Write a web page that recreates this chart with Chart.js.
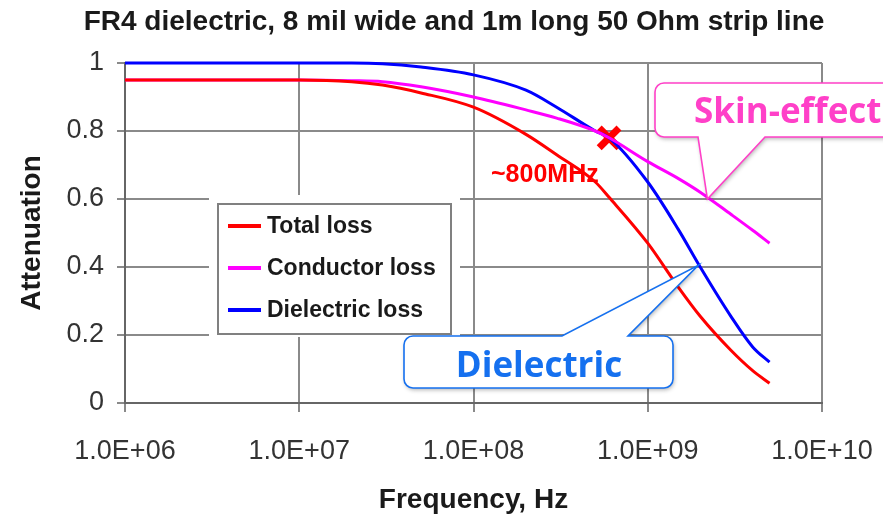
<!DOCTYPE html>
<html>
<head>
<meta charset="utf-8">
<script src="https://cdn.jsdelivr.net/npm/chart.js@4.4.1/dist/chart.umd.min.js"></script>
<style>
    html, body { margin: 0; padding: 0; background: #ffffff; }
    #wrap { width: 883px; height: 522px; position: relative; }
</style>
</head>
<body>
<div id="wrap"><canvas id="chart"></canvas></div>
<script>
// frequency points, Hz
const freqs = [1e6, 2e6, 5e6, 1e7, 2e7, 3e7, 5e7, 1e8, 2e8, 3e8, 5e8, 6e8, 1e9, 1.5e9, 2e9, 3e9, 4e9, 5e9];
const totalLoss = [0.95, 0.95, 0.95, 0.95, 0.945, 0.935, 0.912, 0.87, 0.79, 0.73, 0.65, 0.605, 0.47, 0.34, 0.255, 0.155, 0.095, 0.058];
const conductorLoss = [0.95, 0.95, 0.95, 0.95, 0.948, 0.945, 0.93, 0.90, 0.862, 0.838, 0.80, 0.78, 0.71, 0.66, 0.62, 0.555, 0.508, 0.47];
const dielectricLoss = [1, 1, 1, 1, 1, 0.998, 0.988, 0.965, 0.92, 0.87, 0.80, 0.78, 0.65, 0.51, 0.40, 0.255, 0.165, 0.12];

const seriesNames = ["Total loss", "Conductor loss", "Dielectric loss"];
const seriesColors = ["#ff0000", "#ff00ff", "#0000ff"];

const xTicks = [1e6, 1e7, 1e8, 1e9, 1e10];
const xTickLabels = ["1.0E+06", "1.0E+07", "1.0E+08", "1.0E+09", "1.0E+10"];
const yTickLabels = ["0", "0.2", "0.4", "0.6", "0.8", "1"];

const chartTitle = "FR4 dielectric, 8 mil wide and 1m long 50 Ohm strip line";

// crossover marker and callout anchors
const crossPoint = { x: 6e8, y: 0.78 };
const skinTip = { x: 2.2e9, y: 0.6 };
const dielectricTip = { x: 1.95e9, y: 0.405 };

const toPoints = (vals) => freqs.map((f, i) => ({ x: f, y: vals[i] }));

Chart.defaults.font.family = "'Liberation Sans', Arial, sans-serif";
Chart.defaults.color = "#333333";

const calloutPath = (ctx, l, t, r, b, rad, side, t1, t2, tip) => {
    ctx.beginPath();
    ctx.moveTo(l + rad, t);
    if (side === "top") {
        ctx.lineTo(t1, t);
        ctx.lineTo(tip.x, tip.y);
        ctx.lineTo(t2, t);
    }
    ctx.lineTo(r - rad, t);
    ctx.arcTo(r, t, r, t + rad, rad);
    ctx.lineTo(r, b - rad);
    ctx.arcTo(r, b, r - rad, b, rad);
    if (side === "bottom") {
        ctx.lineTo(t2, b);
        ctx.lineTo(tip.x, tip.y);
        ctx.lineTo(t1, b);
    }
    ctx.lineTo(l + rad, b);
    ctx.arcTo(l, b, l, b - rad, rad);
    ctx.lineTo(l, t + rad);
    ctx.arcTo(l, t, l + rad, t, rad);
    ctx.closePath();
};

const drawCallout = (ctx, box, fill, stroke) => {
    ctx.save();
    calloutPath(ctx, box.l, box.t, box.r, box.b, 9, box.side, box.t1, box.t2, box.tip);
    ctx.shadowColor = "rgba(0,0,0,0.3)";
    ctx.shadowBlur = 4;
    ctx.shadowOffsetX = 1;
    ctx.shadowOffsetY = 2;
    ctx.fillStyle = fill;
    ctx.fill();
    ctx.shadowColor = "transparent";
    ctx.lineWidth = 1.6;
    ctx.strokeStyle = stroke;
    ctx.stroke();
    ctx.restore();
};

const annotations = {
    id: "annotations",
    afterDraw(chart) {
        const { ctx, scales: { x, y } } = chart;
        ctx.save();

        // title
        ctx.fillStyle = "#1a1a1a";
        ctx.font = "bold 28px 'Liberation Sans', Arial, sans-serif";
        ctx.textAlign = "center";
        ctx.textBaseline = "middle";
        ctx.fillText(chartTitle, 454, 22);

        // legend box
        ctx.fillStyle = "#ffffff";
        ctx.fillRect(209, 195, 251, 142);
        ctx.strokeStyle = "#808080";
        ctx.lineWidth = 2;
        ctx.strokeRect(218, 204, 233, 130);
        ctx.font = "bold 23px 'Liberation Sans', Arial, sans-serif";
        ctx.textBaseline = "middle";
        ctx.textAlign = "left";
        seriesNames.forEach((name, idx) => {
            const rowY = 226 + idx * 42;
            ctx.strokeStyle = seriesColors[idx];
            ctx.lineWidth = 4;
            ctx.beginPath();
            ctx.moveTo(228, rowY);
            ctx.lineTo(261, rowY);
            ctx.stroke();
            ctx.fillStyle = "#1a1a1a";
            ctx.fillText(name, 267, rowY + 1);
        });

        // ~800MHz label
        ctx.fillStyle = "#ff0000";
        ctx.font = "bold 25px 'Liberation Sans', Arial, sans-serif";
        ctx.textBaseline = "alphabetic";
        ctx.fillText("~800MHz", 491, 182);

        // Skin-effect callout
        drawCallout(ctx, {
            l: 655, t: 83, r: 905, b: 137, side: "bottom", t1: 698, t2: 765,
            tip: { x: x.getPixelForValue(skinTip.x), y: y.getPixelForValue(skinTip.y) },
        }, "#ffffff", "#ff40c8");
        ctx.fillStyle = "#ff40c8";
        ctx.font = "bold 35px 'Open Sans', sans-serif";
        ctx.textAlign = "left";
        ctx.fillText("Skin-effect", 694, 123);

        // Dielectric callout
        drawCallout(ctx, {
            l: 404, t: 336, r: 673, b: 388, side: "top", t1: 562, t2: 628,
            tip: { x: x.getPixelForValue(dielectricTip.x), y: y.getPixelForValue(dielectricTip.y) },
        }, "#ffffff", "#1570ef");
        ctx.fillStyle = "#1570ef";
        ctx.font = "bold 35px 'Open Sans', sans-serif";
        ctx.textAlign = "center";
        ctx.fillText("Dielectric", 539, 377);

        ctx.restore();
    },
};

const lineDataset = (idx, vals) => ({
    type: "line",
    label: seriesNames[idx],
    data: toPoints(vals),
    borderColor: seriesColors[idx],
    backgroundColor: seriesColors[idx],
    borderWidth: 3,
    pointRadius: 0,
    cubicInterpolationMode: "monotone",
    clip: false,
});

new Chart(document.getElementById("chart").getContext("2d"), {
    type: "line",
    data: {
        datasets: [
            lineDataset(0, totalLoss),
            lineDataset(1, conductorLoss),
            lineDataset(2, dielectricLoss),
            {
                type: "scatter",
                label: "crossover",
                data: [crossPoint],
                pointStyle: "crossRot",
                pointRadius: 14,
                borderColor: "#ff0000",
                backgroundColor: "#ff0000",
                pointBorderWidth: 7,
                borderWidth: 7,
                clip: false,
            },
        ],
    },
    options: {
        responsive: true,
        maintainAspectRatio: false,
        animation: false,
        layout: { padding: { left: 0, right: 61, top: 63, bottom: 0 } },
        plugins: {
            legend: { display: false },
            tooltip: { enabled: false },
            title: { display: false },
        },
        scales: {
            x: {
                type: "logarithmic",
                min: 1e6,
                max: 1e10,
                afterBuildTicks: (scale) => {
                    scale.ticks = xTicks.map((v) => ({ value: v }));
                },
                afterFit: (scale) => {
                    scale.height = 119;
                    scale.paddingLeft = 0;
                    scale.paddingRight = 0;
                },
                ticks: {
                    callback: (value, idx) => xTickLabels[idx],
                    font: { size: 27 },
                    color: "#333333",
                    padding: 23,
                    maxRotation: 0,
                    autoSkip: false,
                },
                grid: { color: "#8a8a8a", lineWidth: 2, tickLength: 9 },
                border: { color: "#666666", width: 2 },
                title: {
                    display: true,
                    text: "Frequency, Hz",
                    color: "#1a1a1a",
                    font: { size: 28, weight: "bold" },
                    padding: { top: 0, bottom: 5 },
                },
            },
            y: {
                min: 0,
                max: 1,
                afterBuildTicks: (scale) => {
                    scale.ticks = yTickLabels.map((t, i) => ({ value: i * 0.2 }));
                },
                afterFit: (scale) => {
                    scale.width = 125;
                },
                ticks: {
                    callback: (value, idx) => yTickLabels[idx],
                    font: { size: 27 },
                    color: "#333333",
                    padding: 13,
                },
                grid: { color: "#8a8a8a", lineWidth: 2, tickLength: 8 },
                border: { color: "#666666", width: 2 },
                title: {
                    display: true,
                    text: "Attenuation",
                    color: "#1a1a1a",
                    font: { size: 28, weight: "bold" },
                    padding: { top: 15, bottom: 0 },
                },
            },
        },
    },
    plugins: [annotations],
});
</script>
</body>
</html>
